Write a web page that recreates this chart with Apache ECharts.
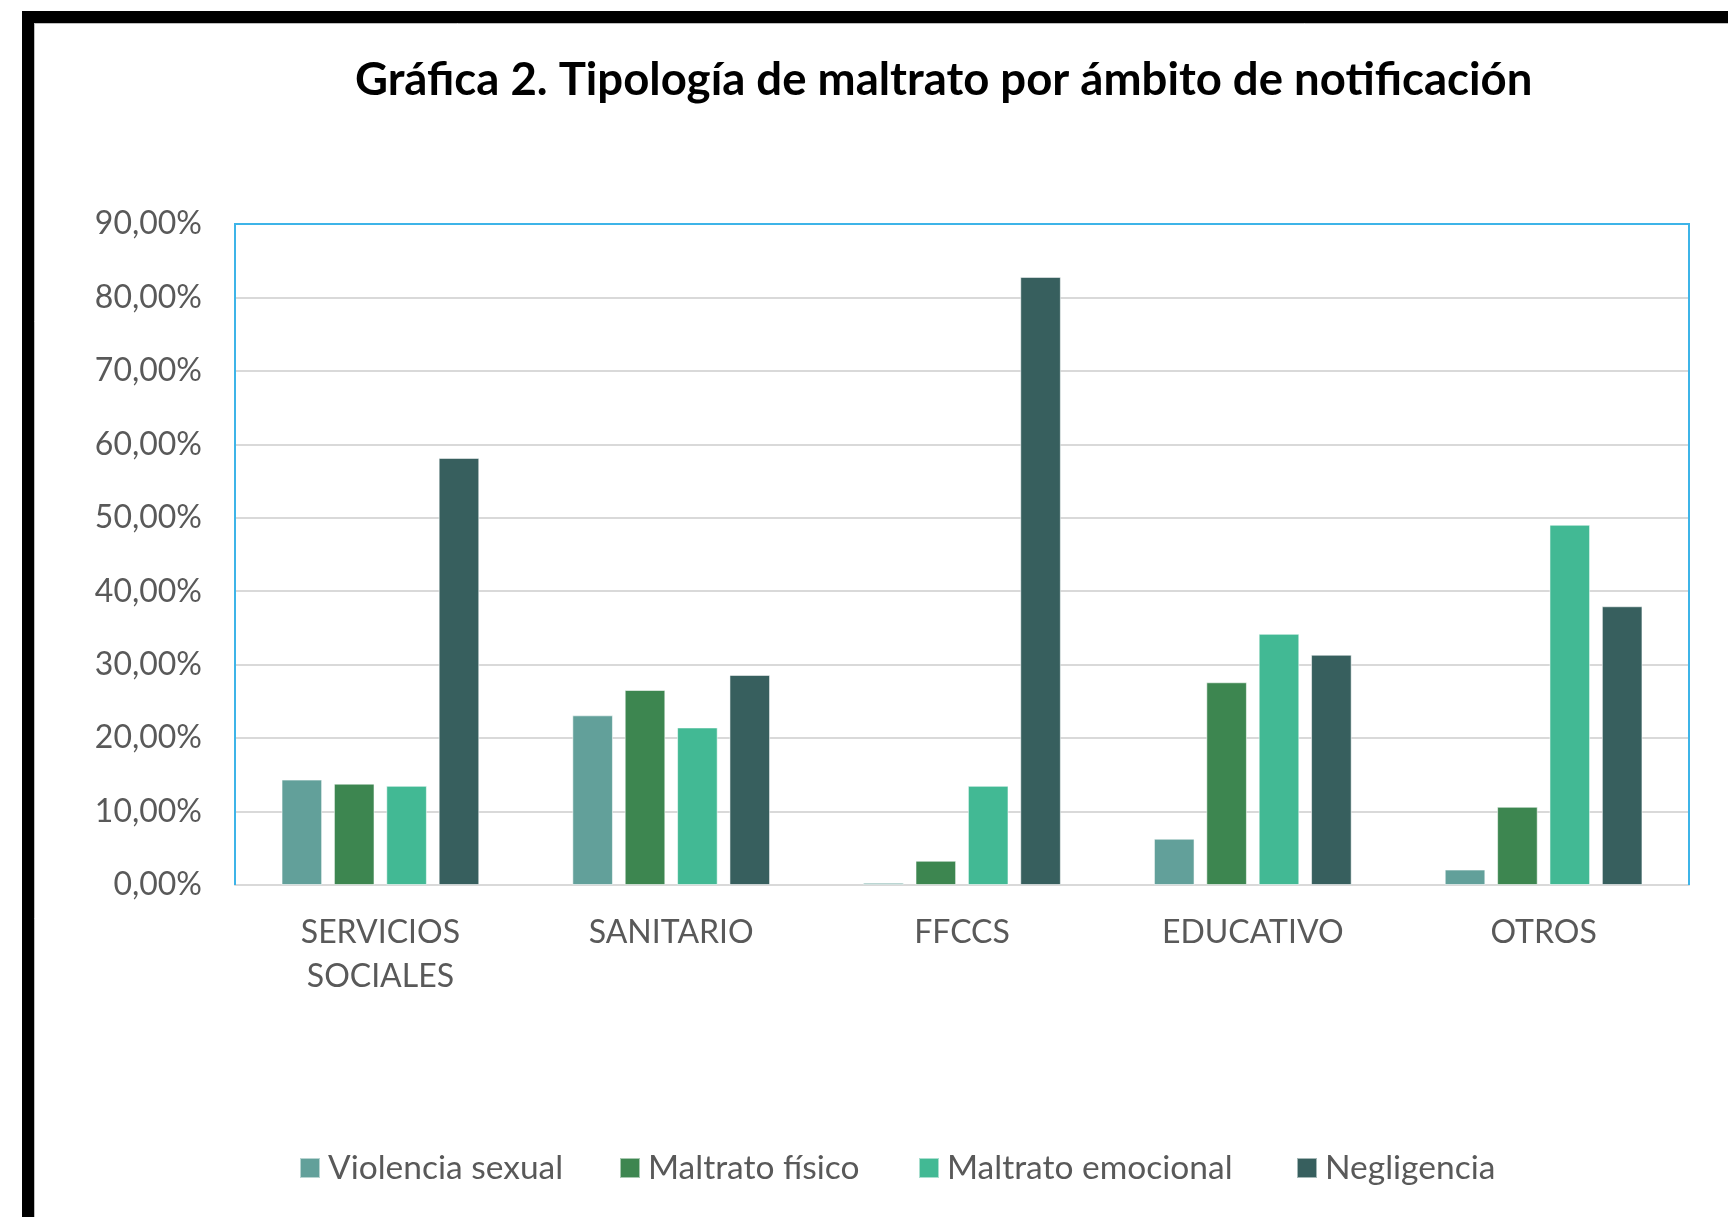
<!DOCTYPE html>
<html>
<head>
<meta charset="utf-8">
<script src="https://cdn.jsdelivr.net/npm/echarts@6/dist/echarts.min.js"></script>
<style>
  html, body { margin: 0; padding: 0; background: #ffffff; }
  #chart { width: 1728px; height: 1217px; }
</style>
</head>
<body>
<div id="chart"></div>
<script>
// ---- data ----
const categories = ['SERVICIOS\nSOCIALES', 'SANITARIO', 'FFCCS', 'EDUCATIVO', 'OTROS'];
const seriesNames = ['Violencia sexual', 'Maltrato físico', 'Maltrato emocional', 'Negligencia'];
const violenciaSexual = [14.35, 23.1, 0.3, 6.3, 2.1];
const maltratoFisico = [13.8, 26.55, 3.3, 27.6, 10.65];
const maltratoEmocional = [13.5, 21.45, 13.5, 34.2, 49.05];
const negligencia = [58.15, 28.6, 82.8, 31.35, 37.95];
const yTicks = { min: 0, max: 90, interval: 10 };
const titleText = 'Gráfica 2. Tipología de maltrato por ámbito de notificación';

const colors = ['#62a09a', '#3d8650', '#42b994', '#375f5e'];
const seriesData = [violenciaSexual, maltratoFisico, maltratoEmocional, negligencia];
const FONT = 'Lato, "Open Sans", sans-serif';
const legendLefts = [294, 614, 913, 1291];

const chart = echarts.init(document.getElementById('chart'), null, { renderer: 'canvas' });

const GL = 235, GT = 224, GW = 1454, GH = 661;

const option = {
  backgroundColor: '#ffffff',
  animation: false,
  title: {
    text: titleText,
    left: 350,
    top: 52,
    textStyle: { fontFamily: FONT, fontSize: 45.5, fontWeight: 'bold', color: '#000000' }
  },
  legend: seriesNames.map((n, i) => ({
    data: [n],
    left: legendLefts[i],
    top: 1146,
    itemWidth: 20,
    itemHeight: 20,
    itemGap: 10,
    icon: 'rect',
    textStyle: { fontFamily: FONT, fontSize: 33.5, color: '#595959', padding: [0, 0, 0, 3] }
  })),
  grid: {
    left: GL, top: GT, width: GW, height: GH,
    show: false
  },
  xAxis: {
    type: 'category',
    data: categories,
    axisLine: { show: true, lineStyle: { color: '#d9d9d9', width: 2 } },
    axisTick: { show: false },
    axisLabel: { fontFamily: FONT, fontSize: 32, color: '#595959', margin: 26, lineHeight: 44 },
    splitLine: { show: false }
  },
  yAxis: {
    type: 'value',
    min: yTicks.min, max: yTicks.max, interval: yTicks.interval,
    axisLine: { show: false },
    axisTick: { show: false },
    axisLabel: {
      fontFamily: FONT, fontSize: 32, color: '#595959', margin: 33,
      formatter: v => v.toFixed(2).replace('.', ',') + '%'
    },
    splitLine: { lineStyle: { color: '#d9d9d9', width: 2 } }
  },
  series: seriesNames.map((n, i) => ({
    name: n,
    type: 'bar',
    data: seriesData[i],
    barWidth: 40.6,
    barGap: '29%',
    itemStyle: { color: colors[i], borderColor: 'rgba(255,255,255,0.55)', borderWidth: 1 }
  })),
  graphic: [
    { type: 'polyline', shape: { points: [[GL, GT + GH], [GL, GT], [GL + GW, GT], [GL + GW, GT + GH]] },
      style: { stroke: '#3db4e8', lineWidth: 2, fill: null }, z: 50 },
    { type: 'rect', shape: { x: 22, y: 11, width: 1706, height: 12 }, style: { fill: '#000000' }, z: 100 },
    { type: 'rect', shape: { x: 22, y: 11, width: 12, height: 1206 }, style: { fill: '#000000' }, z: 100 },
    { type: 'line', shape: { x1: 34, y1: 23.5, x2: 1728, y2: 23.5 }, style: { stroke: '#bfbfbf', lineWidth: 1 }, z: 100 },
    { type: 'line', shape: { x1: 34.5, y1: 23, x2: 34.5, y2: 1217 }, style: { stroke: '#bfbfbf', lineWidth: 1 }, z: 100 }
  ]
};

chart.setOption(option);
</script>
</body>
</html>
